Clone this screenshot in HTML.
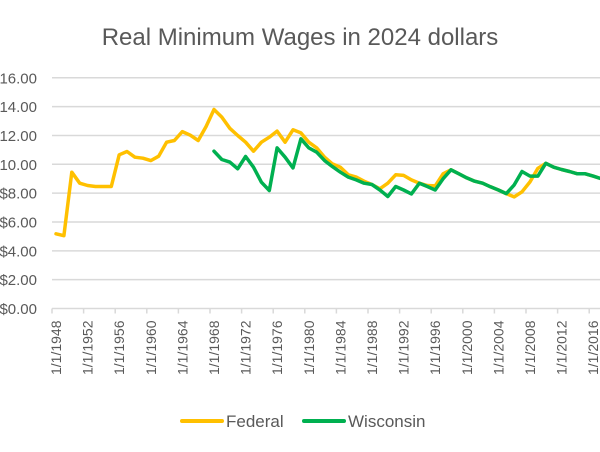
<!DOCTYPE html>
<html><head><meta charset="utf-8"><style>
html,body{margin:0;padding:0;background:#fff;}
svg{display:block;font-family:"Liberation Sans",sans-serif;}
</style></head><body>
<svg id="chart" width="600" height="452" viewBox="0 0 600 452" xmlns="http://www.w3.org/2000/svg">
<text x="300" y="45" text-anchor="middle" font-size="24" fill="#595959">Real Minimum Wages in 2024 dollars</text>
<g id="grid"></g>
<g id="yaxis"></g>
<g id="xaxis"></g>
<g id="series"></g>
<g>
<line x1="182" y1="421" x2="222" y2="421" stroke="#FFC000" stroke-width="4" stroke-linecap="round"/>
<text x="226" y="427" font-size="17" fill="#595959">Federal</text>
<line x1="304" y1="421" x2="344" y2="421" stroke="#00B050" stroke-width="4" stroke-linecap="round"/>
<text x="348" y="427" font-size="17" fill="#595959">Wisconsin</text>
</g>
</svg>
<script>
const startYear = 1948;
const federal = [5.18,5.05,9.45,8.69,8.53,8.46,8.46,8.46,10.66,10.89,10.49,10.42,10.26,10.56,11.53,11.65,12.27,12.02,11.65,12.62,13.80,13.27,12.50,12.00,11.53,10.91,11.53,11.88,12.30,11.53,12.39,12.18,11.53,11.14,10.49,10.03,9.80,9.27,9.11,8.83,8.60,8.30,8.69,9.27,9.23,8.92,8.69,8.53,8.50,9.34,9.62,9.34,9.06,8.83,8.69,8.44,8.22,7.97,7.74,8.09,8.78,9.72,10.07,9.80,9.64,9.50,9.34,9.34,9.18,9.00,8.85];
const wisconsin = [null,null,null,null,null,null,null,null,null,null,null,null,null,null,null,null,null,null,null,null,10.91,10.33,10.15,9.69,10.54,9.80,8.76,8.18,11.14,10.49,9.75,11.77,11.14,10.84,10.26,9.84,9.45,9.11,8.92,8.69,8.60,8.22,7.77,8.46,8.22,7.95,8.69,8.46,8.22,9.00,9.62,9.34,9.06,8.83,8.69,8.44,8.22,7.97,8.57,9.50,9.18,9.18,10.07,9.80,9.64,9.50,9.34,9.34,9.18,9.00,8.85];
const yTicks = [0,2,4,6,8,10,12,14,16];
const yTickLabels = ["$0.00","$2.00","$4.00","$6.00","$8.00","$10.00","$12.00","$14.00","$16.00"];
const xLabelYears = [1948,1952,1956,1960,1964,1968,1972,1976,1980,1984,1988,1992,1996,2000,2004,2008,2012,2016,2020];

const NS="http://www.w3.org/2000/svg";
const plotL=52, plotR=600, y0=308.5, pxPerDollar=14.42, step=7.9;
const yScale=v=>y0-v*pxPerDollar;
const xScale=i=>plotL+(i+0.5)*step;
function mk(tag,attrs,parent){const e=document.createElementNS(NS,tag);for(const k in attrs)e.setAttribute(k,attrs[k]);parent.appendChild(e);return e;}
const grid=document.getElementById('grid'),yaxis=document.getElementById('yaxis'),xaxis=document.getElementById('xaxis'),series=document.getElementById('series');
yTicks.forEach((v,k)=>{
  if(v>0){const l=mk('line',{x1:plotL,x2:plotR,y1:yScale(v),y2:yScale(v),stroke:'#d9d9d9','stroke-width':1.5},grid);
  
  }
  const t=mk('text',{x:37,y:yScale(v)+5.5,'text-anchor':'end','font-size':15,fill:'#595959'},yaxis);
  t.textContent=yTickLabels[k];
  
  
});
const ax=mk('line',{x1:plotL,x2:plotR,y1:y0,y2:y0,stroke:'#d9d9d9','stroke-width':1.5},xaxis);


xLabelYears.forEach(yr=>{
  const i=yr-startYear;
  const tx=plotL+i*step;
  const tk=mk('line',{x1:tx,x2:tx,y1:y0,y2:y0+5,stroke:'#d9d9d9','stroke-width':1.5},xaxis);
  
  
  const cx=xScale(i)+5;
  const t=mk('text',{x:0,y:0,'text-anchor':'end','font-size':14,fill:'#595959',transform:`translate(${cx},${y0+12}) rotate(-90)`},xaxis);
  t.textContent='1/1/'+yr;
  
  
});
function drawLine(vals,color,name){
  let d='';let pen=false;
  vals.forEach((v,i)=>{if(v==null){pen=false;return;}d+=(pen?'L':'M')+xScale(i).toFixed(1)+' '+yScale(v).toFixed(1)+' ';pen=true;});
  const p=mk('path',{d:d,fill:'none',stroke:color,'stroke-width':3.5,'stroke-linejoin':'round','stroke-linecap':'round'},series);
  
  
}
drawLine(federal,'#FFC000','federal-line');
drawLine(wisconsin,'#00B050','wisconsin-line');
</script>
</body></html>
